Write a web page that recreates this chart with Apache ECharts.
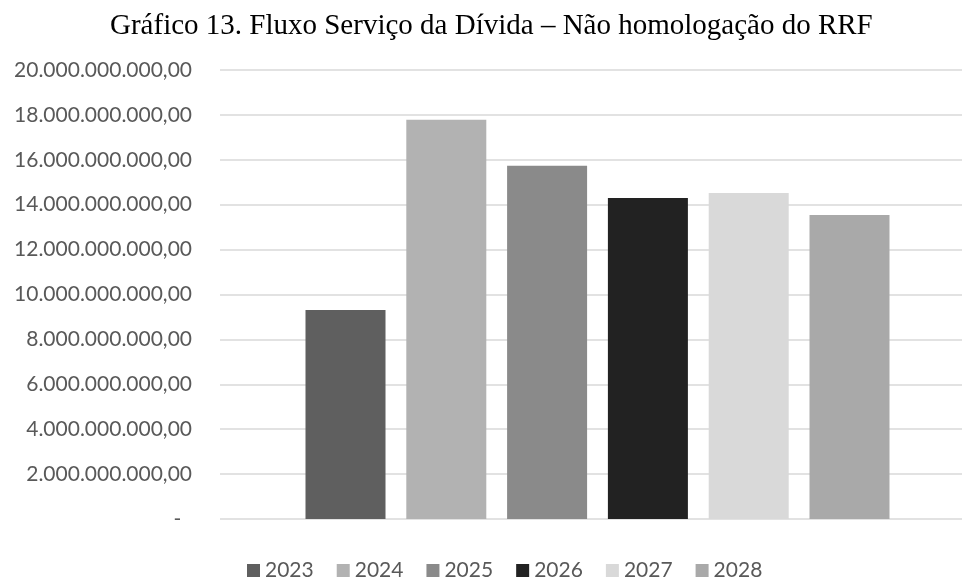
<!DOCTYPE html>
<html>
<head>
<meta charset="utf-8">
<script src="https://cdn.jsdelivr.net/npm/echarts@6/dist/echarts.min.js"></script>
<style>
    html, body { margin: 0; padding: 0; background: #fff; overflow: hidden; }
    /* o gráfico original corta a área de plotagem na borda direita */
    #chart { width: 975px; height: 580px; }
</style>
</head>
<body>
<div id="chart"></div>
<script>
const titleText = 'Gráfico 13. Fluxo Serviço da Dívida – Não homologação do RRF';
const years = ['2023', '2024', '2025', '2026', '2027', '2028'];
const values = [9310000000, 17780000000, 15730000000, 14300000000, 14520000000, 13540000000];
const colors = ['#5f5f5f', '#b2b2b2', '#8a8a8a', '#222222', '#d9d9d9', '#a9a9a9'];
const yMin = 0;
const yMax = 20000000000;
const yStep = 2000000000;

// formata no padrão brasileiro: 20.000.000.000,00, zero vira "-"
const formatBR = (value) => {
    if (value === 0) {
        return '-  ';
    }
    let parts = value.toFixed(2).split('.');
    let inteiro = parts[0].replace(/\B(?=(\d{3})+(?!\d))/g, '.');
    return inteiro + ',' + parts[1];
};

const drawChart = () => {
    let chart = echarts.init(document.getElementById('chart'));
    let series = years.map((year, idx) => {
        return {
            name: year,
            type: 'bar',
            data: [values[idx]],
            barWidth: 80,
            barGap: '26%',
            itemStyle: { color: colors[idx] },
        };
    });

    let option = {
        animation: false,
        color: colors,
        title: {
            text: titleText,
            left: 110,
            top: 12,
            padding: 0,
            textStyle: {
                fontFamily: 'Liberation Serif',
                fontWeight: 'normal',
                fontSize: 29,
                color: '#000',
            },
        },
        legend: {
            data: years,
            left: 247,
            top: 560,
            padding: 0,
            itemWidth: 13,
            itemHeight: 13,
            itemGap: 23,
            icon: 'rect',
            textStyle: {
                fontFamily: 'Lato',
                fontSize: 21,
                color: '#595959',
            },
        },
        grid: {
            left: 220,
            right: 0,
            top: 70,
            bottom: 61,
        },
        xAxis: {
            type: 'category',
            data: [''],
            axisLine: { show: false },
            axisTick: { show: false },
            axisLabel: { show: false },
        },
        yAxis: {
            type: 'value',
            min: yMin,
            max: yMax,
            interval: yStep,
            axisLine: { show: false },
            axisTick: { show: false },
            axisLabel: {
                formatter: formatBR,
                margin: 28,
                fontFamily: 'Lato',
                fontSize: 21,
                color: '#595959',
            },
            splitLine: {
                show: true,
                lineStyle: { color: '#d9d9d9', width: 1.5 },
            },
        },
        series: series,
    };
    chart.setOption(option);
};

drawChart();
</script>
</body>
</html>
